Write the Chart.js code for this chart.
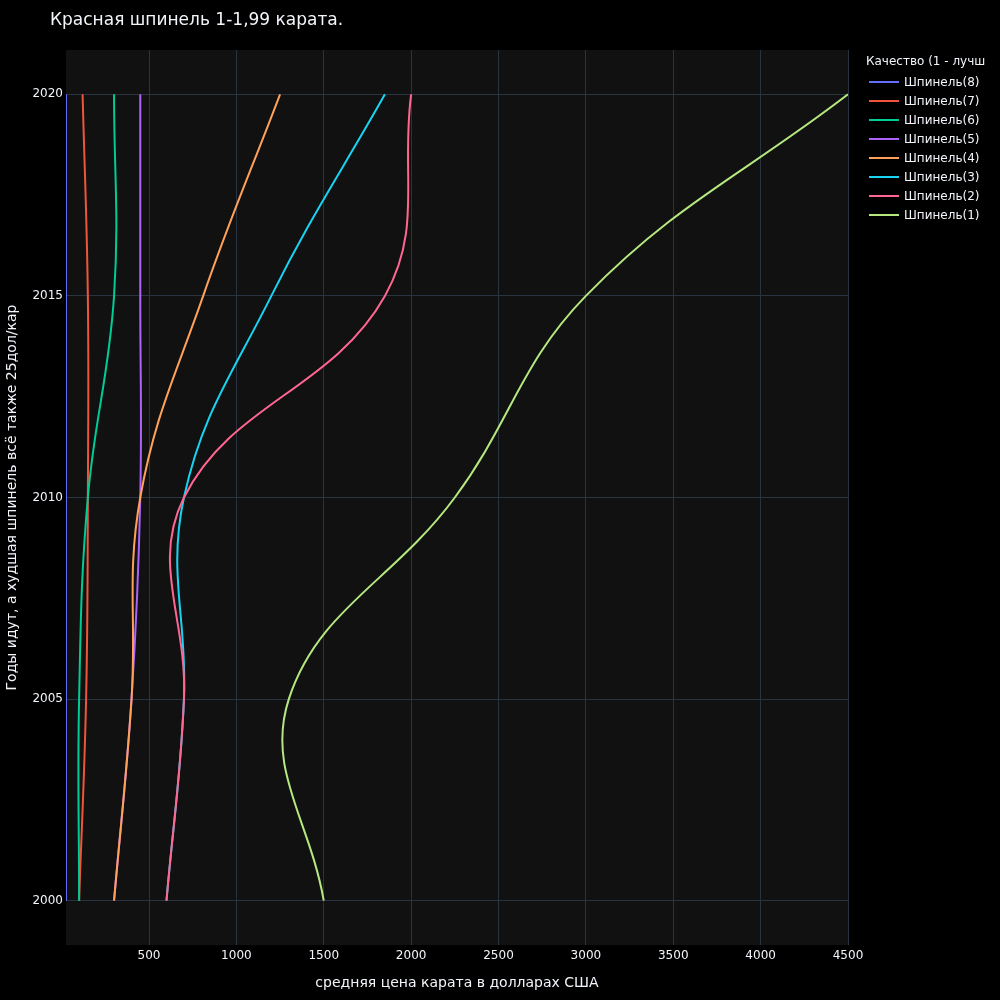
<!DOCTYPE html>
<html lang="ru">
<head>
    <meta charset="UTF-8">
    <title>Красная шпинель 1-1,99 карата.</title>
    <script src="https://cdn.jsdelivr.net/npm/chart.js"></script>
    <style>
        body { margin: 0; background: #000; overflow: hidden; font-family: "DejaVu Sans", Verdana, sans-serif; color: #f2f5fa; }
        #wrap { position: relative; width: 1000px; height: 1000px; }
        #title { position: absolute; left: 50px; top: 9px; font-size: 17px; white-space: nowrap; }
        #legend { position: absolute; left: 866px; top: 53px; font-size: 12px; }
        #legend .head { height: 19px; line-height: 17px; white-space: nowrap; }
        #legend .item { height: 19px; display: flex; align-items: center; white-space: nowrap; }
        #legend .swatch { width: 30px; height: 2px; margin: 0 5px 0 3px; }
    </style>
</head>
<body>
<div id="wrap">
    <canvas id="myChart" width="1000" height="1000"></canvas>
    <div id="title">Красная шпинель 1-1,99 карата.</div>
    <div id="legend"><div class="head">Качество (1 - лучш</div></div>
</div>

<script>
    // years on the vertical axis
    var years = [2000, 2005, 2010, 2015, 2020];

    // average price per carat, USD
    var spinel8 = [25, 25, 25, 25, 25];
    var spinel7 = [100, 140, 150, 150, 120];
    var spinel6 = [100, 100, 150, 300, 300];
    var spinel5 = [300, 400, 450, 450, 450];
    var spinel4 = [300, 400, 450, 810, 1250];
    var spinel3 = [600, 700, 700, 1200, 1850];
    var spinel2 = [600, 700, 700, 1850, 2000];
    var spinel1 = [1500, 1300, 2250, 3000, 4500];

    var names = ['Шпинель(8)', 'Шпинель(7)', 'Шпинель(6)', 'Шпинель(5)',
                 'Шпинель(4)', 'Шпинель(3)', 'Шпинель(2)', 'Шпинель(1)'];
    var series = [spinel8, spinel7, spinel6, spinel5, spinel4, spinel3, spinel2, spinel1];
    var colors = ['#636efa', '#EF553B', '#00cc96', '#ab63fa', '#FFA15A', '#19d3f3', '#FF6692', '#B6E880'];

    var xTicks = [500, 1000, 1500, 2000, 2500, 3000, 3500, 4000, 4500];

    var datasets = series.map(function (vals, i) {
        return {
            label: names[i],
            data: vals.map(function (v, j) { return { x: v, y: years[j] }; }),
            borderColor: colors[i],
            backgroundColor: colors[i],
            borderWidth: 2,
            pointRadius: 0,
            tension: 0.4,
            fill: false,
            // first trace drawn first, last trace on top
            order: series.length - i
        };
    });

    // paint plot background
    var plotBg = {
        id: 'plotBg',
        beforeDraw: function (chart) {
            var a = chart.chartArea, c = chart.ctx;
            c.save();
            c.fillStyle = '#000';
            c.fillRect(0, 0, chart.width, chart.height);
            c.fillStyle = '#111111';
            c.fillRect(a.left, a.top, a.right - a.left, a.bottom - a.top);
            c.restore();
        }
    };

    var font = { family: '"DejaVu Sans", Verdana, sans-serif', size: 12 };

    var ctx = document.getElementById('myChart').getContext('2d');
    var myChart = new Chart(ctx, {
        type: 'line',
        data: { datasets: datasets },
        options: {
            responsive: false,
            animation: false,
            layout: { padding: { top: 50, right: 152, left: 0, bottom: 0 } },
            plugins: {
                legend: { display: false },
                tooltip: { enabled: false }
            },
            scales: {
                x: {
                    type: 'linear',
                    min: 25,
                    max: 4500,
                    afterBuildTicks: function (s) { s.ticks = xTicks.map(function (v) { return { value: v }; }); },
                    afterFit: function (s) { s.height = 55; },
                    grid: { color: '#283442', drawTicks: false },
                    border: { display: false },
                    ticks: { color: '#f2f5fa', font: font, padding: 4, maxRotation: 0,
                             callback: function (v) { return String(v); } },
                    title: { display: true, text: 'средняя цена карата в долларах США',
                             color: '#f2f5fa', font: { family: font.family, size: 14 },
                             padding: { top: 0, bottom: 8 } }
                },
                y: {
                    type: 'linear',
                    min: 1998.9,
                    max: 2021.1,
                    afterBuildTicks: function (s) { s.ticks = years.map(function (v) { return { value: v }; }); },
                    afterFit: function (s) { s.width = 66; },
                    grid: { color: '#283442', drawTicks: false },
                    border: { display: false },
                    ticks: { color: '#f2f5fa', font: font, padding: 3,
                             callback: function (v) { return String(v); } },
                    title: { display: true, text: 'Годы идут, а худшая шпинель всё также 25дол/кар',
                             color: '#f2f5fa', font: { family: font.family, size: 14 },
                             padding: { top: 4, bottom: 0 } }
                }
            }
        },
        plugins: [plotBg]
    });

    // legend as html text
    var legend = document.getElementById('legend');
    names.forEach(function (n, i) {
        var row = document.createElement('div');
        row.className = 'item';
        row.innerHTML = '<span class="swatch" style="background:' + colors[i] + '"></span>' + n;
        legend.appendChild(row);
    });
</script>
</body>
</html>
